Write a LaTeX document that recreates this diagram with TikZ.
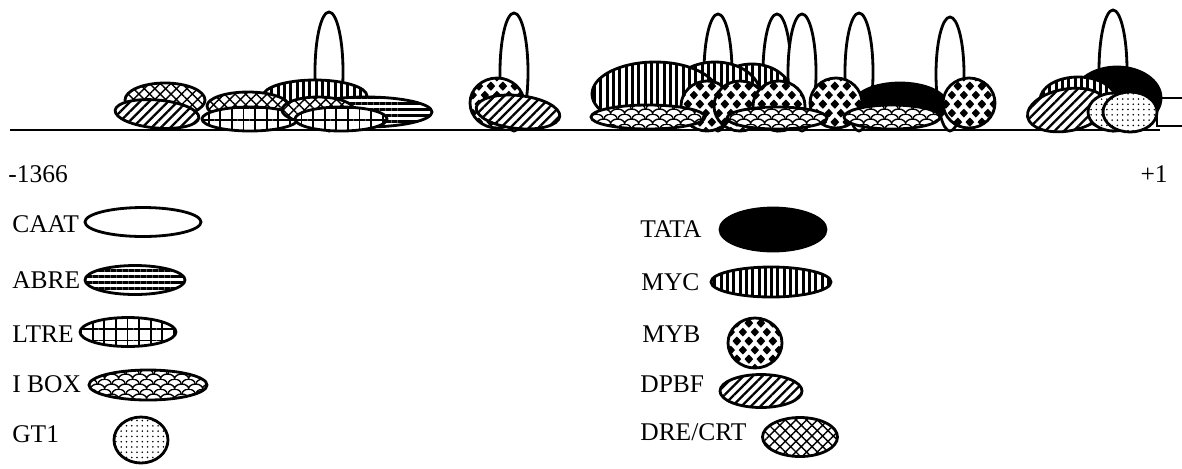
\documentclass[tikz,border=0pt]{standalone}
\usepackage{fontspec}
\setmainfont{Liberation Serif}
\usetikzlibrary{patterns,patterns.meta}

\pgfdeclarepatternformonly{mybdiamonds}{\pgfpointorigin}{\pgfqpoint{7pt}{10.4pt}}{\pgfqpoint{7pt}{10.4pt}}{%
  \foreach \cx/\cy in {0/0,7/0,0/10.4,7/10.4,3.5/5.2}{%
    \pgfpathmoveto{\pgfpoint{\cx pt+2.5pt}{\cy pt}}%
    \pgfpathlineto{\pgfpoint{\cx pt}{\cy pt+2.6pt}}%
    \pgfpathlineto{\pgfpoint{\cx pt-2.5pt}{\cy pt}}%
    \pgfpathlineto{\pgfpoint{\cx pt}{\cy pt-2.6pt}}%
    \pgfpathclose}%
  \pgfusepath{fill}}
\pgfdeclarepatternformonly{iboxscales}{\pgfpointorigin}{\pgfqpoint{8pt}{5.6pt}}{\pgfqpoint{8pt}{5.6pt}}{%
  \pgfsetlinewidth{0.8pt}%
  \pgfpathmoveto{\pgfqpoint{-4pt}{0pt}}\pgfpatharc{180}{0}{4pt and 2.8pt}%
  \pgfpathmoveto{\pgfqpoint{4pt}{0pt}}\pgfpatharc{180}{0}{4pt and 2.8pt}%
  \pgfpathmoveto{\pgfqpoint{0pt}{2.8pt}}\pgfpatharc{180}{0}{4pt and 2.8pt}%
  \pgfusepath{stroke}}

\tikzset{
  elem/.style={draw,line width=1.6pt,preaction={fill=white}},
  caat/.style={elem},
  abre/.style={elem,pattern={Lines[angle=0,distance=3.4pt,line width=1.6pt]}},
  ltre/.style={elem,pattern={Hatch[angle=0,distance=6.6pt,line width=1pt]}},
  ibox/.style={elem,pattern=iboxscales},
  gtone/.style={elem,pattern={Dots[distance=3pt,radius=0.5pt]}},
  tata/.style={draw,line width=1.6pt,fill=black},
  myc/.style={elem,pattern={Lines[angle=90,distance=3.6pt,line width=1.7pt]}},
  myb/.style={elem,pattern=mybdiamonds},
  dpbf/.style={elem,pattern={Lines[angle=45,distance=3.8pt,line width=1.3pt]}},
  drecrt/.style={elem,pattern={Hatch[angle=45,distance=4.3pt,line width=0.8pt]}},
  keytext/.style={font=\fontsize{14.5}{17}\selectfont,inner sep=0pt,anchor=base west}
}

\begin{document}
\begin{tikzpicture}[x=0.02cm,y=-0.02cm]
\useasboundingbox (0,0) rectangle (1182,468);
% promoter line and start of the gene
\draw[line width=1.4pt] (10,130) -- (1160,130);
\draw[line width=1.4pt] (1182,98) -- (1157,98) -- (1157,126) -- (1182,126);
\foreach \x/\t in {329/12,514/13,718/14,777/14,802/14,859/13,950/17,1113/10}
  \draw[caat] (\x,{(\t+131)/2}) ellipse [x radius=14, y radius={(131-\t)/2}];
% left cluster
\draw[drecrt] (165,100) ellipse [x radius=40, y radius=17];
\draw[dpbf,rotate around={-5:(157,114)}] (157,114) ellipse [x radius=42, y radius=14];
\draw[myc] (315,96) ellipse [x radius=52, y radius=16];
\draw[drecrt] (248,106) ellipse [x radius=41, y radius=14];
\draw[ltre] (250,119) ellipse [x radius=48, y radius=12];
\draw[abre] (366,112) ellipse [x radius=66, y radius=15];
\draw[drecrt] (318,110) ellipse [x radius=36, y radius=13];
\draw[ltre] (341,119) ellipse [x radius=46, y radius=12];
\draw[myb] (497,103) ellipse [x radius=27, y radius=25];
\draw[dpbf,rotate around={-6:(518,112)}] (518,112) ellipse [x radius=42, y radius=16.5];
% middle cluster
\draw[myc] (752,95) ellipse [x radius=40, y radius=31];
\draw[myc] (715,94) ellipse [x radius=45, y radius=32];
\draw[myc] (655,94) ellipse [x radius=63, y radius=32];
\draw[tata] (900,105) ellipse [x radius=47, y radius=22];
\foreach \x/\y in {707/106,740/106,779/106,836/103,969/103}
  \draw[myb] (\x,\y) ellipse [x radius=26, y radius=25];
\draw[ibox] (648,117) ellipse [x radius=57, y radius=12];
\draw[ibox] (777,118) ellipse [x radius=50, y radius=11];
\draw[ibox] (892,117) ellipse [x radius=48, y radius=12];
% right cluster
\draw[tata] (1117,98) ellipse [x radius=44, y radius=31];
\draw[myc] (1078,100) ellipse [x radius=38, y radius=23];
\draw[dpbf,rotate around={10:(1067,110)}] (1067,110) ellipse [x radius=40, y radius=21];
\draw[gtone] (1114,112) ellipse [x radius=26, y radius=19];
\draw[gtone] (1130,112) ellipse [x radius=27, y radius=20];
\node[keytext] (startpos) at (8,182) {-1366};
\node[keytext,anchor=base east] (endpos) at (1168,182) {+1};
% key
\node[keytext] (caatkey) at (12,232) {CAAT};
\draw[caat] (143,222) ellipse [x radius=58, y radius=14.5];
\node[keytext] (abrekey) at (12,288) {ABRE};
\draw[abre] (135,280) ellipse [x radius=50, y radius=14.5];
\node[keytext] (ltrekey) at (12,342) {LTRE};
\draw[ltre] (128,332) ellipse [x radius=48, y radius=14.5];
\node[keytext] (iboxkey) at (12,392) {I BOX};
\draw[ibox] (148,385) ellipse [x radius=59, y radius=15];
\node[keytext] (gtonekey) at (12,442) {GT1};
\draw[gtone] (141,440) ellipse [x radius=27, y radius=23];
\node[keytext] (tatakey) at (640,237) {TATA};
\draw[tata] (773,229.5) ellipse [x radius=53, y radius=21.5];
\node[keytext] (myckey) at (641,290) {MYC};
\draw[myc] (771,282) ellipse [x radius=60, y radius=15];
\node[keytext] (mybkey) at (642,342) {MYB};
\draw[myb] (755,343) ellipse [x radius=27, y radius=25];
\node[keytext] (dpbfkey) at (640,392) {DPBF};
\draw[dpbf] (761,391) ellipse [x radius=41, y radius=16.5];
\node[keytext] (drecrtkey) at (640,440) {DRE/CRT};
\draw[drecrt] (800,437) ellipse [x radius=37.5, y radius=19.5];
\end{tikzpicture}
\end{document}
